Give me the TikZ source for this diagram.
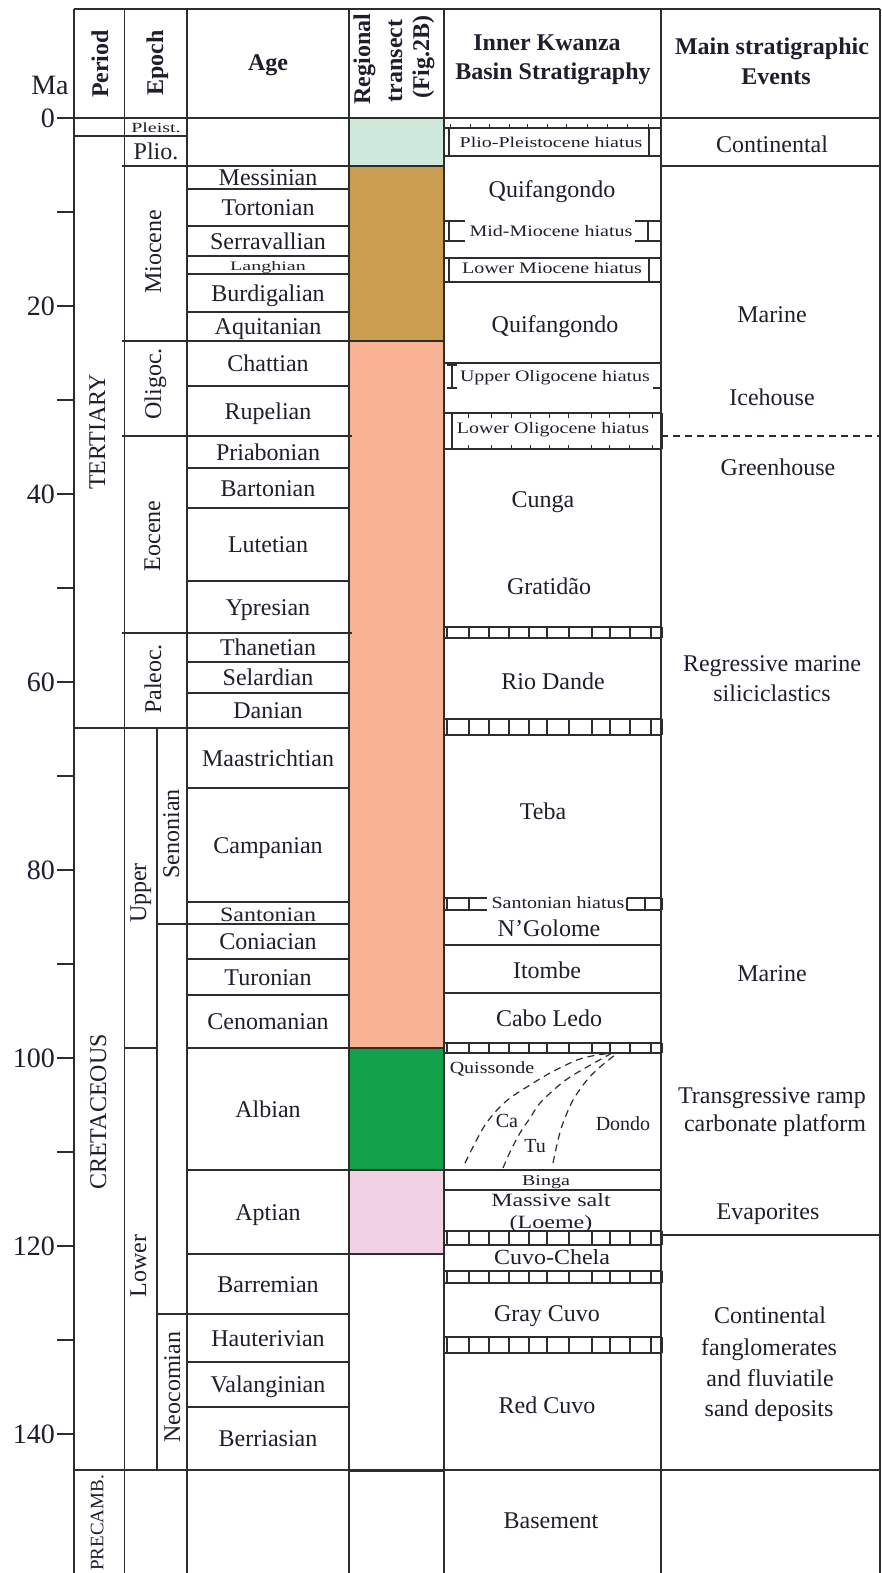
\documentclass[tikz,border=0pt]{standalone}
\usepackage{fontspec}
\setmainfont{Liberation Serif}
\usepackage{graphicx}
\definecolor{cmint}{RGB}{207,232,220}
\definecolor{ctan}{RGB}{201,158,80}
\definecolor{csalmon}{RGB}{248,178,148}
\definecolor{cgreen}{RGB}{19,161,76}
\definecolor{cpink}{RGB}{240,210,228}
\definecolor{cink}{RGB}{30,30,45}
\definecolor{cline}{RGB}{45,45,45}
\newcommand{\sqz}[2]{\scalebox{1}[#1]{#2}}
\newcommand{\ladder}[2]{%
  \draw[gl] (444,#1) -- (661,#1) (444,#2) -- (661,#2);
  \foreach \xx in {447,469,489,509,529,547,569,592,610,630,651}{\draw[gl] (\xx,#1) -- (\xx,#2);}
  \draw[thk] (661,#1) -- (661,#2);}
\begin{document}
\begin{tikzpicture}[x=1pt,y=-1pt,
  gl/.style={line width=1.6pt, draw=cline},
  thk/.style={line width=3pt, draw=cline},
  tick/.style={line width=1pt, draw=cline},
  dsh/.style={line width=1.4pt, draw=cline, dash pattern=on 7pt off 5pt},
  txt/.style={inner sep=0pt, text=cink, font=\fontsize{24}{26}\selectfont, text height=16pt, text depth=0pt},
  hdr/.style={txt, font=\fontsize{24}{26}\selectfont\bfseries},
  axn/.style={inner sep=0pt, text=cink, font=\fontsize{28}{30}\selectfont, text height=18.5pt, text depth=0pt, anchor=east},
  sml/.style={inner sep=0pt, text=cink, font=\fontsize{20}{22}\selectfont, text height=11pt, text depth=0pt}]
\useasboundingbox (0,0) rectangle (882,1573);
\fill[white] (0,0) rectangle (882,1573);
% regional transect colours
\fill[cmint] (349,118) rectangle (444,166);
\fill[ctan] (349,166) rectangle (444,341);
\fill[csalmon] (349,341) rectangle (444,1048);
\fill[cgreen] (349,1048) rectangle (444,1170);
\fill[cpink] (349,1170) rectangle (444,1254);
% vertical grid
\foreach \xx in {74,124.5,187,349,444,661,880} {\draw[gl] (\xx,9) -- (\xx,1573);}
\draw[gl] (157,728) -- (157,1470);
% horizontal grid
\draw[gl] (74,9) -- (880,9);
\draw[gl] (74,118) -- (880,118);
\draw[gl] (74,136) -- (187,136);
\draw[gl] (122,166) -- (444,166) (661,166) -- (880,166);
\draw[gl] (122,341) -- (444,341);
\draw[gl] (122,436) -- (352,436);
\draw[gl] (122,633) -- (352,633);
\draw[gl] (74,728) -- (349,728);
\draw[gl] (157,924) -- (349,924);
\draw[gl] (124.5,1048) -- (157,1048) (187,1048) -- (444,1048);
\draw[gl] (187,1170) -- (661,1170);
\draw[gl] (187,1254) -- (444,1254);
\draw[gl] (157,1314) -- (349,1314);
\foreach \yy in {189,226,256,274,312,386,468,508,581,662,693,788,902,959,995,1362,1407} {\draw[gl] (187,\yy) -- (349,\yy);}
\draw[gl] (74,1470) -- (880,1470);
\draw[thk] (349,1470) -- (444,1470);
\draw[gl] (661,1235) -- (880,1235);
\draw[dsh] (661,436) -- (880,436);
% time axis
\foreach \m in {0,10,...,140} {\draw[gl] (57,{118+9.4*\m}) -- (74,{118+9.4*\m});}
\node[txt, font=\fontsize{28}{30}\selectfont, text height=18.5pt] (ma) at (50,85) {Ma};
\foreach \m in {0,20,...,140} {\node[axn] (ax\m) at (55,{118+9.4*\m}) {\m};}
% inner kwanza structure
\draw[gl] (444,128) -- (661,128) (444,156) -- (661,156) (449,128) -- (449,156) (649,128) -- (649,156);
\foreach \xx in {450,470,489,509,527,547,566,587,607,627,648} {\draw[tick] (\xx,128) -- (\xx,124.5);}
\draw[gl] (444,221) -- (465,221) (449,221) -- (449,241) (444,241) -- (465,241);
\draw[gl] (635,221) -- (661,221) (648,221) -- (648,241) (635,241) -- (661,241);
\draw[gl] (444,258) -- (661,258) (444,282) -- (661,282) (449,258) -- (449,282) (649,258) -- (649,282);
\draw[gl] (444,363) -- (661,363);
\draw[gl] (447,365) -- (457,365) (452,365) -- (452,388) (447,388) -- (457,388) (653,388) -- (661,388);
\draw[gl] (444,413) -- (661,413) (444,449) -- (661,449) (452,413) -- (452,449);
\draw[thk] (661,413) -- (661,449);
\foreach \xx in {468,491,511,530,549,568,591,609,629,652} {\draw[tick] (\xx,413) -- (\xx,417.5) (\xx,449) -- (\xx,444.5);}
\ladder{627}{638}
\ladder{719}{735}
\draw[gl] (444,898) -- (487,898) (444,910) -- (487,910) (447,898) -- (447,910) (469,898) -- (469,910);
\draw[gl] (627,898) -- (661,898) (627,910) -- (661,910) (627,898) -- (627,910) (645,898) -- (645,910);
\draw[thk] (661,898) -- (661,910);
\draw[gl] (444,945) -- (661,945) (444,993) -- (661,993);
\ladder{1043}{1053}
\draw[gl] (444,1190) -- (661,1190);
\ladder{1231}{1245}
\ladder{1271}{1283}
\ladder{1337}{1353}
% dashed facies boundaries (Albian)
\draw[dsh, line width=1.2pt] plot[smooth] coordinates {(465,1163) (475,1143) (485,1125) (497,1110) (510,1098) (530,1085) (550,1073) (577,1060) (597,1055) (615,1053)};
\draw[dsh, line width=1.2pt] plot[smooth] coordinates {(503,1168) (510,1152) (520,1133) (530,1118) (540,1103) (557,1087) (570,1077) (587,1067) (603,1058) (612,1053)};
\draw[dsh, line width=1.2pt] plot[smooth] coordinates {(553,1163) (558,1140) (563,1123) (573,1100) (587,1080) (600,1067) (615,1055)};
% header
\node[hdr, rotate=90] (hPeriod) at (100,64) {Period};
\node[hdr, rotate=90] (hEpoch) at (155,63) {Epoch};
\node[hdr] (hAge) at (268,63) {Age};
\node[hdr, rotate=90] (hReg1) at (362,59) {Regional};
\node[hdr, rotate=90] (hReg2) at (394,61) {transect};
\node[hdr, rotate=90] (hReg3) at (421,57) {(Fig.2B)};
\node[hdr] (hInner1) at (547,43) {Inner Kwanza};
\node[hdr] (hInner2) at (553,72) {Basin Stratigraphy};
\node[hdr] (hMain1) at (772,47) {Main stratigraphic};
\node[hdr] (hMain2) at (776,77) {Events};
% periods
\node[txt, rotate=90] (pTert) at (97,432) {TERTIARY};
\node[txt, rotate=90] (pCret) at (98,1112) {CRETACEOUS};
\node[txt, rotate=90, font=\fontsize{19}{20}\selectfont, text height=12.5pt] (pPre) at (97,1523) {PRECAMB.};
% epochs
\node[sml] (ePleist) at (156,127) {\sqz{0.7}{Pleist.}};
\node[txt] (ePlio) at (156,152) {Plio.};
\node[txt, rotate=90] (eMio) at (153,252) {Miocene};
\node[txt, rotate=90] (eOli) at (153,384) {Oligoc.};
\node[txt, rotate=90] (eEoc) at (152,536) {Eocene};
\node[txt, rotate=90] (ePal) at (153,679) {Paleoc.};
\node[txt, rotate=90] (eUpp) at (138,893) {Upper};
\node[txt, rotate=90] (eSen) at (171,834) {Senonian};
\node[txt, rotate=90] (eLow) at (138,1266) {Lower};
\node[txt, rotate=90] (eNeo) at (172,1387) {Neocomian};
% ages
\node[txt] (aMes) at (268,177.5) {Messinian};
\node[txt] (aTor) at (268,207.5) {Tortonian};
\node[txt] (aSer) at (268,241) {Serravallian};
\node[sml] (aLan) at (268,265) {\sqz{0.65}{Langhian}};
\node[txt] (aBur) at (268,293) {Burdigalian};
\node[txt] (aAqu) at (268,326.5) {Aquitanian};
\node[txt] (aCha) at (268,363.5) {Chattian};
\node[txt] (aRup) at (268,411) {Rupelian};
\node[txt] (aPri) at (268,452) {Priabonian};
\node[txt] (aBar) at (268,488) {Bartonian};
\node[txt] (aLut) at (268,544.5) {Lutetian};
\node[txt] (aYpr) at (268,607) {Ypresian};
\node[txt] (aTha) at (268,647.5) {Thanetian};
\node[txt] (aSel) at (268,677.5) {Selardian};
\node[txt] (aDan) at (268,710.5) {Danian};
\node[txt] (aMaa) at (268,758) {Maastrichtian};
\node[txt] (aCam) at (268,845) {Campanian};
\node[txt] (aSan) at (268,913) {\sqz{0.85}{Santonian}};
\node[txt] (aCon) at (268,941.5) {Coniacian};
\node[txt] (aTur) at (268,977) {Turonian};
\node[txt] (aCen) at (268,1021.5) {Cenomanian};
\node[txt] (aAlb) at (268,1109) {Albian};
\node[txt] (aApt) at (268,1212) {Aptian};
\node[txt] (aBrr) at (268,1284.5) {Barremian};
\node[txt] (aHau) at (268,1338) {Hauterivian};
\node[txt] (aVal) at (268,1384.5) {Valanginian};
\node[txt] (aBer) at (268,1438.5) {Berriasian};
% inner kwanza basin stratigraphy
\node[sml] (iPP) at (551,142) {\sqz{0.75}{Plio-Pleistocene hiatus}};
\node[txt] (iQ1) at (552,189) {Quifangondo};
\node[sml] (iMM) at (551,231) {\sqz{0.8}{Mid-Miocene hiatus}};
\node[sml] (iLM) at (552,268) {\sqz{0.8}{Lower Miocene hiatus}};
\node[txt] (iQ2) at (555,324) {Quifangondo};
\node[sml] (iUO) at (555,376) {\sqz{0.8}{Upper Oligocene hiatus}};
\node[sml] (iLO) at (553,428) {\sqz{0.8}{Lower Oligocene hiatus}};
\node[txt] (iCun) at (543,499) {Cunga};
\node[txt] (iGra) at (549,586) {Gratidão};
\node[txt] (iRio) at (553,681) {Rio Dande};
\node[txt] (iTeb) at (543,811) {Teba};
\node[sml] (iSH) at (558,903) {\sqz{0.85}{Santonian hiatus}};
\node[txt] (iNGo) at (549,928) {N'Golome};
\node[txt] (iIto) at (547,970) {Itombe};
\node[txt] (iCab) at (549,1018) {Cabo Ledo};
\node[sml] (iQui) at (492,1068) {\sqz{0.85}{Quissonde}};
\node[sml] (iCa) at (507,1122) {Ca};
\node[sml] (iTu) at (535,1147) {Tu};
\node[sml] (iDon) at (623,1125) {Dondo};
\node[sml] (iBin) at (546,1180) {\sqz{0.75}{Binga}};
\node[txt] (iMS1) at (551,1198) {\sqz{0.78}{Massive salt}};
\node[txt] (iMS2) at (551,1220) {\sqz{0.78}{(Loeme)}};
\node[txt] (iCuv) at (552,1256) {\sqz{0.9}{Cuvo-Chela}};
\node[txt] (iGrC) at (547,1313) {Gray Cuvo};
\node[txt] (iRed) at (547,1405) {Red Cuvo};
\node[txt] (iBas) at (551,1520) {Basement};
% main stratigraphic events
\node[txt] (mCon) at (772,145) {Continental};
\node[txt] (mMar1) at (772,314) {Marine};
\node[txt] (mIce) at (772,397) {Icehouse};
\node[txt] (mGre) at (778,467) {Greenhouse};
\node[txt] (mReg1) at (772,663) {Regressive marine};
\node[txt] (mReg2) at (772,693) {siliciclastics};
\node[txt] (mMar2) at (772,973) {Marine};
\node[txt] (mTr1) at (772,1095) {Transgressive ramp};
\node[txt] (mTr2) at (775,1123) {carbonate platform};
\node[txt] (mEva) at (768,1211) {Evaporites};
\node[txt] (mCo1) at (770,1315) {Continental};
\node[txt] (mCo2) at (769,1347) {fanglomerates};
\node[txt] (mCo3) at (770,1378) {and fluviatile};
\node[txt] (mCo4) at (769,1408) {sand deposits};
\end{tikzpicture}
\end{document}
